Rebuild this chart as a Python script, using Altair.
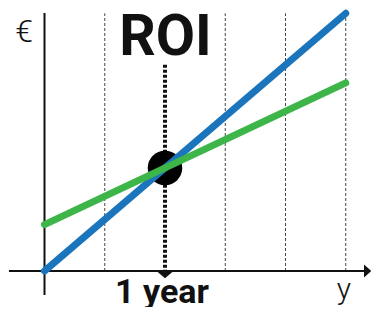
import altair as alt
import pandas as pd

# ---- data (years on x, euros on y, arbitrary units) ----
years = [0.0, 2.5]
revenue_vals = [0.0, 10.0]      # blue line
cost_vals = [1.8, 7.3]          # green line
guide_years = [0.5, 1.5, 2.0, 2.5]
roi_year = [1.0]
roi_value = [4.0]
title_text = ["ROI"]
xlabel_text = ["1 year"]
ylabel_text = ["€"]
xunit_text = ["y"]

# plot area covers page pixels 8..371 (x) and 8..307 (y)
xs = alt.Scale(domain=[-0.3029, 2.7095], nice=False, zero=False)
ys = alt.Scale(domain=[-1.397, 10.206], nice=False, zero=False)

def XE(f):
    return alt.X(f, type="quantitative", scale=xs, axis=None)

def YE(f):
    return alt.Y(f, type="quantitative", scale=ys, axis=None)

rev_df = pd.DataFrame({"t": years, "v": revenue_vals})
cost_df = pd.DataFrame({"t": years, "v": cost_vals})
guide_df = pd.DataFrame({"t": guide_years})
roi_df = pd.DataFrame({"t": roi_year, "v": roi_value})

one = alt.Chart(roi_df)

# thin dashed guides
guides = alt.Chart(guide_df).transform_calculate(a="0", b="10").mark_rule(
    strokeWidth=1, strokeDash=[3, 2], color="#444"
).encode(x=XE("t"), y=YE("a"), y2="b:Q")

# y axis line
yaxis = one.transform_calculate(x0="0", a="-0.93", b="10.01").mark_rule(
    strokeWidth=2, color="#111"
).encode(x=XE("x0"), y=YE("a"), y2="b:Q")

# x axis line
xaxis = one.transform_calculate(a="-0.295", b="2.655", y0="0").mark_rule(
    strokeWidth=2, color="#111"
).encode(x=XE("a"), x2="b:Q", y=YE("y0"))

# x axis arrow head
xarrow = one.transform_calculate(a="2.6515", y0="0").mark_point(
    shape="M0,-1L0,1L1.1,0Z", filled=True, size=169, color="#111", opacity=1, strokeWidth=0
).encode(x=XE("a"), y=YE("y0"))

# thick dotted ROI line
roi_line = one.transform_calculate(a="8", b="0").mark_rule(
    strokeWidth=4, strokeDash=[3, 2], color="#111"
).encode(x=XE("t"), y=YE("a"), y2="b:Q")

# arrow head under the ROI line
roi_arrow = one.transform_calculate(y0="0").mark_point(
    shape="M-1,0L1,0L0,0.85Z", filled=True, size=289, color="#111", opacity=1, strokeWidth=0
).encode(x=XE("t"), y=YE("y0"))

# break-even circle
roi_dot = one.mark_circle(size=1195, color="#000", opacity=1).encode(x=XE("t"), y=YE("v"))

rev_line = alt.Chart(rev_df).mark_line(strokeWidth=7, strokeCap="round", color="#1b75bc").encode(
    x=XE("t"), y=YE("v")
)
cost_line = alt.Chart(cost_df).mark_line(strokeWidth=7, strokeCap="round", color="#3db549").encode(
    x=XE("t"), y=YE("v")
)

def label(txt, xv, yv, **kw):
    return alt.Chart(pd.DataFrame({"txt": txt})).transform_calculate(
        px=str(xv), py=str(yv)
    ).mark_text(color="#111", align="center", baseline="alphabetic", **kw).encode(
        x=XE("px"), y=YE("py"), text="txt:N"
    )

title = label(title_text, 1.004, 8.38, font="Roboto", fontSize=57, fontWeight="bold")
xlabel = label(xlabel_text, 0.975, -1.242, font="Roboto", fontSize=34, fontWeight="bold")
ylabel = label(ylabel_text, -0.17, 8.885, font="Roboto", fontSize=32, fontWeight=300)
xunit = label(xunit_text, 2.485, -1.09, font="Roboto", fontSize=30, fontWeight=300)

chart = alt.layer(
    guides, yaxis, xaxis, xarrow, roi_line, roi_arrow, roi_dot, rev_line, cost_line,
    title, xlabel, ylabel, xunit,
).properties(
    width=363, height=299,
    autosize=alt.AutoSizeParams(type="none"),
    padding=0,
    background="white",
).configure_view(stroke=None)

chart.save("out.html", embed_options={"renderer": "svg", "actions": False})
